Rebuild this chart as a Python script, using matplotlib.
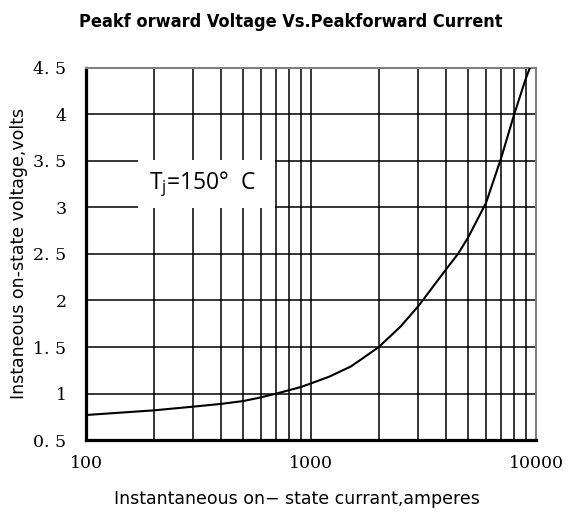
import matplotlib
matplotlib.use("Agg")
import matplotlib.pyplot as plt
from matplotlib.patches import Rectangle

# values (Tj = 150 C)
current = [100, 200, 300, 400, 500, 600, 700, 800, 900, 1000, 1200, 1500,
           1700, 2000, 2500, 3000, 4000, 4500, 5000, 6000, 7000, 8000, 9000, 9400]
voltage = [0.77, 0.82, 0.86, 0.89, 0.92, 0.96, 1.0, 1.037, 1.07, 1.11, 1.18,
           1.29, 1.38, 1.5, 1.72, 1.94, 2.34, 2.5, 2.68, 3.05, 3.53, 4.0, 4.38, 4.5]

x_major = [100, 1000, 10000]
x_grid = [200, 300, 400, 500, 600, 700, 800, 900, 1000,
          2000, 3000, 4000, 5000, 6000, 7000, 8000, 9000]
y_ticks = [0.5, 1, 1.5, 2, 2.5, 3, 3.5, 4, 4.5]
y_labels = ["0. 5", "1", "1. 5", "2", "2. 5", "3", "3. 5", "4", "4. 5"]

fig = plt.figure(figsize=(5.66, 5.13), dpi=100)
ax = fig.add_axes([0.152, 0.142, 0.795, 0.726])
ax.set_xscale("log")
ax.set_xlim(100, 10000)
ax.set_ylim(0.5, 4.5)

for xv in x_grid:
    ax.axvline(xv, color="black", lw=1.1, zorder=1)
for yv in y_ticks[1:-1]:
    ax.axhline(yv, color="black", lw=1.1, zorder=1)

ax.plot(current, voltage, color="black", lw=1.5, zorder=4)

# white label box that blanks out the grid behind it
ax.add_patch(Rectangle((170, 2.99), 690 - 170, 0.52, facecolor="white",
                       edgecolor="none", zorder=3))
ax.text(330, 3.25, "T$_\\mathregular{j}$=150°  C", ha="center", va="center",
        fontsize=16.5, family=["Open Sans", "DejaVu Sans"], zorder=5)

ax.set_xticks(x_major)
ax.set_xticklabels(["100", "1000", "10000"])
ax.xaxis.set_minor_locator(matplotlib.ticker.NullLocator())
ax.set_yticks(y_ticks)
ax.set_yticklabels(y_labels)
ax.tick_params(length=0, labelsize=12.5)
ax.tick_params(axis="y", pad=14)
ax.tick_params(axis="x", pad=11)
for lab in ax.get_xticklabels() + ax.get_yticklabels():
    lab.set_family("DejaVu Serif")

for side in ("left", "bottom"):
    ax.spines[side].set_linewidth(2.3)
    ax.spines[side].set_color("black")
for side in ("top", "right"):
    ax.spines[side].set_linewidth(1.5)
    ax.spines[side].set_color("#808080")

ax.set_xlabel("Instantaneous on\u2212 state currant,amperes",
              family="DejaVu Sans", fontsize=12.5)
ax.xaxis.set_label_coords(0.469, -0.135)
ax.set_ylabel("Instaneous on-state voltage,volts",
              family="DejaVu Sans", fontsize=12.5, labelpad=4)
fig.text(0.513, 0.958, "Peakf orward Voltage Vs.Peakforward Current",
         ha="center", va="center", fontsize=13, fontweight="bold",
         fontstretch="condensed", family=["DejaVu Sans"])

fig.savefig("out.png", dpi=100)
